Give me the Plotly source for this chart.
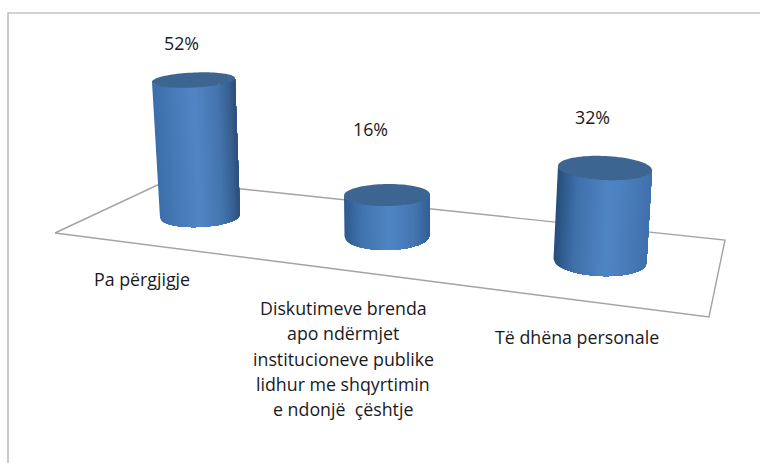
import numpy as np
import plotly.graph_objects as go

# ---- data ----
categories = ["Pa përgjigje",
              "Diskutimeve brenda<br>apo ndërmjet<br>institucioneve publike<br>lidhur me shqyrtimin<br>e ndonjë  çështje",
              "Të dhëna personale"]
values = [52, 16, 32]
value_labels = ["52%", "16%", "32%"]

# ---- layout constants (pixel-like plot space) ----
W, H = 760, 463
FONT = "Open Sans, sans-serif"
TEXT = "#1a1a1e"
base_x = [200, 387, 600]
base_y = [216, 236, 261]
px_per_unit = [2.615, 2.56, 2.906]
slant = [-0.125, 0.0, 0.156]         # x shift per value unit
tilt = [-0.045, -0.012, 0.045]
rx_bot = [40, 42.5, 46.5]
ry_bot = [11, 14, 15]
rx_top = [41.5, 43, 47]
ry_top = [7.5, 11, 12]
side_stops = [
    [(0, "#3c6eaa"), (0.2, "#4479b6"), (0.5, "#5285c4"), (0.78, "#4374ae"), (0.92, "#375f90"), (1, "#2a4d75")],
    [(0, "#2f5b8e"), (0.2, "#4074ae"), (0.52, "#5085c4"), (0.8, "#4577b2"), (1, "#315e92")],
    [(0, "#274f7e"), (0.2, "#3f70aa"), (0.55, "#5085c4"), (0.85, "#4678b5"), (1, "#3f70aa")],
]
top_color = "#3c6591"
label_x = [142, 343, 577]
label_y = [279, 308, 337]
label_step = 25.3
pct_pos = [(181, 43), (370, 129), (592, 117)]
floor_x = [55, 166, 725, 709, 55]
floor_y = [233, 181, 240, 317, 233]
frame_x = [8, 8, 760]
frame_y = [463, 13, 13]
GREY = "#a6a6a6"
N = 60


def lerp(stops, t):
    for (t0, c0), (t1, c1) in zip(stops, stops[1:]):
        if t <= t1:
            f = (t - t0) / (t1 - t0)
            a = [int(c0[i:i + 2], 16) for i in (1, 3, 5)]
            b = [int(c1[i:i + 2], 16) for i in (1, 3, 5)]
            r = [round(p + (q - p) * f) for p, q in zip(a, b)]
            return "rgb(%d,%d,%d)" % tuple(r)
    return stops[-1][1]


fig = go.Figure()
fig.add_trace(go.Scatter(x=frame_x, y=frame_y, mode="lines",
                         line=dict(color=GREY, width=1.2), hoverinfo="skip"))
fig.add_trace(go.Scatter(x=floor_x, y=floor_y, mode="lines",
                         line=dict(color="#a3a3a3", width=1.4), hoverinfo="skip"))

for i, v in enumerate(values):
    h = v * px_per_unit[i]
    bx, by = base_x[i], base_y[i]
    tx, ty = bx + v * slant[i], by - h
    # even spacing in screen x, each band runs to the right edge so no seams show
    us = np.linspace(-1, 1, N + 1)
    for k in range(N):
        arc = np.arccos(us[k:])
        tx_pts = tx + rx_top[i] * np.cos(arc)
        ty_pts = ty + ry_top[i] * np.sin(arc) + tilt[i] * rx_top[i] * np.cos(arc)
        bx_pts = bx + rx_bot[i] * np.cos(arc)
        by_pts = by + ry_bot[i] * np.sin(arc) + tilt[i] * rx_bot[i] * np.cos(arc)
        xs = list(tx_pts) + list(bx_pts[::-1])
        ys = list(ty_pts) + list(by_pts[::-1])
        c = lerp(side_stops[i], (us[k] + 1) / 2)
        fig.add_trace(go.Scatter(x=xs + xs[:1], y=ys + ys[:1], mode="none", fill="toself",
                                 fillcolor=c, hoverinfo="skip"))
    a = np.linspace(0, 2 * np.pi, 90)
    fig.add_trace(go.Scatter(x=tx + rx_top[i] * np.cos(a),
                             y=ty + ry_top[i] * np.sin(a) + tilt[i] * rx_top[i] * np.cos(a),
                             mode="none", fill="toself", fillcolor=top_color, hoverinfo="skip"))

ann = []
for i, lab in enumerate(categories):
    for j, line in enumerate(lab.split("<br>")):
        ann.append(dict(x=label_x[i], y=label_y[i] + j * label_step, text=line.replace("  ", "&nbsp; "),
                        showarrow=False, xanchor="center", yanchor="middle",
                        font=dict(family=FONT, size=17.8, color=TEXT)))
for (px, py), t in zip(pct_pos, value_labels):
    ann.append(dict(x=px, y=py, text=t, showarrow=False, xanchor="center", yanchor="middle",
                    font=dict(family=FONT, size=17.8, color=TEXT)))

fig.update_layout(
    width=W, height=H, margin=dict(l=0, r=0, t=0, b=0), showlegend=False,
    paper_bgcolor="white", plot_bgcolor="white", annotations=ann,
    xaxis=dict(range=[0, W], visible=False, fixedrange=True),
    yaxis=dict(range=[H, 0], visible=False, fixedrange=True),
)
fig.write_html("out.html", config=dict(displayModeBar=False),
               post_script="document.body.style.margin='0';document.body.style.overflow='hidden';")
